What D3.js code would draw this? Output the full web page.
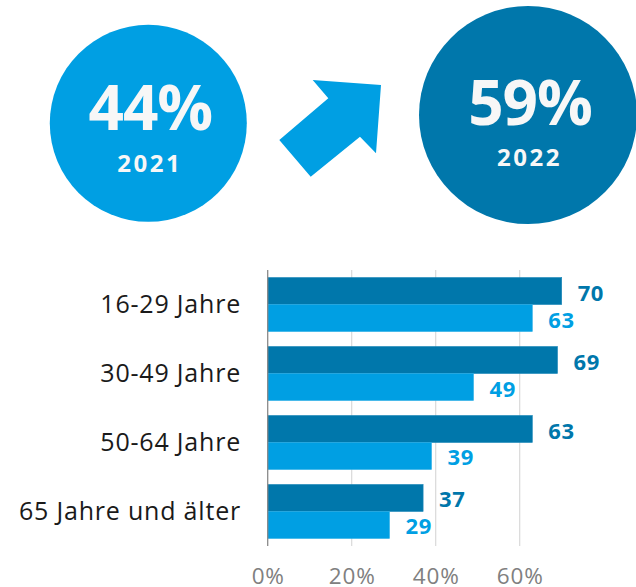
<!DOCTYPE html>
<html>
<head>
<meta charset="utf-8">
<script src="https://cdn.jsdelivr.net/npm/d3@7"></script>
<style>
  html, body { margin: 0; padding: 0; background: #fff; }
  svg { display: block; }
  text { font-family: "Open Sans", "Noto Sans", sans-serif; }
</style>
</head>
<body>
<script>
// ---- data ----
const categories = ["16-29 Jahre", "30-49 Jahre", "50-64 Jahre", "65 Jahre und älter"];
const series = ["2022", "2021"];
const values2022 = [70, 69, 63, 37];
const values2021 = [63, 49, 39, 29];
const tickValues = [0, 20, 40, 60];
const summaryYears = ["2021", "2022"];
const summaryTotals = [44, 59];

// ---- setup ----
const W = 636, H = 587;
const DARK = "#0077ab", LIGHT = "#009fe3";
const svg = d3.select("body").append("svg").attr("width", W).attr("height", H);

// ---- summary circles ----
const circleLayout = [
  { cx: 148.3, cy: 123.3, r: 98.5, fill: LIGHT, numY: 6.7, yearY: 48.4 },
  { cx: 528, cy: 115, r: 109, fill: DARK, numY: 10, yearY: 50.7 }
];
const summary = summaryYears.map((y, i) => ({ year: y, total: summaryTotals[i], ...circleLayout[i] }));
const cg = svg.append("g").selectAll("g").data(summary).join("g")
  .attr("transform", d => `translate(${d.cx},${d.cy})`);
cg.append("circle").attr("r", d => d.r).attr("fill", d => d.fill);
cg.append("text").attr("text-anchor", "middle").attr("x", 2).attr("y", d => d.numY)
  .attr("font-size", 62).attr("font-weight", 700).attr("fill", "#f7f7f7")
  .attr("letter-spacing", -1)
  .text(d => d.total + "%");
cg.append("text").attr("text-anchor", "middle").attr("x", 1.5).attr("y", d => d.yearY)
  .attr("font-size", 24).attr("font-weight", 700).attr("fill", "#f7f7f7")
  .attr("letter-spacing", 2.5)
  .text(d => d.year);

// ---- arrow ----
const arrowPts = [[381, 85], [312.7, 80], [328.3, 98.3], [279.3, 140], [310.7, 176.7], [360, 136.7], [376, 153.3]];
svg.append("path").attr("d", d3.line()(arrowPts) + "Z").attr("fill", LIGHT);

// ---- bar chart ----
const x = d3.scaleLinear().domain([0, 60]).range([267.7, 519.7]);
const y = d3.scaleBand().domain(categories).range([270, 546]).paddingInner(0.217).paddingOuter(0.109);
const ys = d3.scaleBand().domain(series).range([0, y.bandwidth()]);

// gridlines
svg.append("g").selectAll("line").data(tickValues.filter(t => t > 0)).join("line")
  .attr("x1", d => x(d)).attr("x2", d => x(d))
  .attr("y1", 270).attr("y2", 546)
  .attr("stroke", "#d9d9d9").attr("stroke-width", 1.2);

const rows = categories.map((c, i) => ({ cat: c, vals: [
  { s: "2022", v: values2022[i], color: DARK },
  { s: "2021", v: values2021[i], color: LIGHT }
]}));

const rg = svg.append("g").selectAll("g").data(rows).join("g")
  .attr("transform", d => `translate(0,${y(d.cat)})`);
rg.selectAll("rect").data(d => d.vals).join("rect")
  .attr("x", x(0)).attr("y", d => ys(d.s))
  .attr("width", d => x(d.v) - x(0)).attr("height", ys.bandwidth())
  .attr("fill", d => d.color)
  .attr("stroke", d => d.color === DARK ? "#1a86b8" : "#2aaee6").attr("stroke-width", 0.6);
rg.selectAll("text.val").data(d => d.vals).join("text").attr("class", "val")
  .attr("x", d => x(d.v) + 16).attr("y", d => ys(d.s) + ys.bandwidth() / 2 + 9.5)
  .attr("font-size", 22).attr("font-weight", 700).attr("fill", d => d.color)
  .attr("letter-spacing", 0.6)
  .text(d => d.v);

// category labels
svg.append("g").selectAll("text").data(categories).join("text")
  .attr("x", 241).attr("y", d => y(d) + y.bandwidth() / 2 + 8.5)
  .attr("text-anchor", "end").attr("font-size", 25).attr("fill", "#1a1a1a")
  .attr("letter-spacing", 0.8)
  .text(d => d);

// vertical axis line
svg.append("line").attr("x1", x(0)).attr("x2", x(0)).attr("y1", 270).attr("y2", 546)
  .attr("stroke", "#8a8a8a").attr("stroke-width", 1.3);

// bottom axis labels
const xAxis = d3.axisBottom(x).tickValues(tickValues).tickSize(0).tickPadding(0)
  .tickFormat(d => d + "%");
const ax = svg.append("g").attr("transform", "translate(0,546)").call(xAxis);
ax.select(".domain").remove();
ax.selectAll("text").attr("font-size", 22.5).attr("fill", "#808080")
  .attr("font-family", "'Open Sans', sans-serif")
  .attr("letter-spacing", 0.8)
  .attr("dy", null).attr("y", 38);
</script>
</body>
</html>
